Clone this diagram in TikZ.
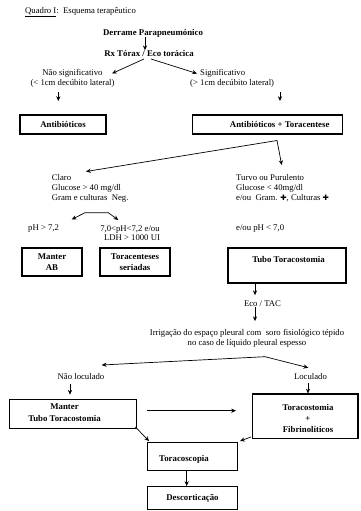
\documentclass[tikz,border=0pt]{standalone}
\usepackage{fontspec}
\setmainfont{Liberation Serif}
\newfontfamily\symfont{DejaVu Sans}
\usetikzlibrary{arrows.meta}
\begin{document}
\begin{tikzpicture}[x=1pt,y=-1pt,
  every node/.style={font=\fontsize{8.7}{10}\selectfont, inner sep=0pt},
  bold/.style={font=\fontsize{8.8}{11}\selectfont\bfseries},
  box/.style={draw, line width=1.3pt, inner sep=0pt},
  arr/.style={-{Stealth[length=4.8pt,width=4.2pt]}, line width=0.7pt},
  darr/.style={{Stealth[length=4.8pt,width=4.2pt]}-{Stealth[length=4.8pt,width=4.2pt]}, line width=0.7pt}]
\fill[white] (0,0) rectangle (360,511);
\useasboundingbox (0,0) rectangle (360,511);

% header
\node[anchor=west] (title) at (25,11.7) {\underline{Quadro I}:\ \ Esquema terapêutico};
\node[bold] (derrame) at (153,33) {Derrame Parapneumónico};
\node[bold] (rx) at (149,53.5) {Rx Tórax / Eco torácica};
\draw[arr] ([xshift=-8pt]derrame.south) -- ([xshift=-4pt]rx.north);

\node[align=center] (naosig) at (72.5,78.2) {Não significativo\\(< 1cm decúbito lateral)};
\node[anchor=west, align=left] (sig) at (190,78.2) {\hspace*{10pt}Significativo\\(> 1cm decúbito lateral)};
\coordinate (rxl) at (144,59);
\coordinate (rxr) at (151,59);
\coordinate (naosigtip) at (112,73.5);
\coordinate (sigtip) at (197,73.5);
\draw[arr] (rxl) -- (naosigtip);
\draw[arr] (rxr) -- (sigtip);

\node[box, bold, minimum width=86pt, minimum height=19pt] (antib) at (63,124.5) {Antibióticos};
\node[box, bold, minimum width=150pt, minimum height=19pt] (antibT) at (267.7,124.5) {\hspace*{24pt}Antibióticos + Toracentese};
\coordinate (c1) at (58.3,0);
\coordinate (c2) at (280,0);
\draw[arr, shorten <=4.5pt, shorten >=13.3pt] (naosig.south -| c1) -- (antib.north -| c1);
\draw[arr, shorten <=4.5pt, shorten >=13.3pt] (sig.south -| c2) -- (antibT.north -| c2);

% second level
\node[anchor=west, align=left] (claro) at (51.7,188) {Claro\\Glucose > 40 mg/dl\\Gram e culturas\ \ Neg.};
\node[anchor=west, align=left] (turvo) at (236,188) {Turvo ou Purulento\\Glucose < 40mg/dl\\e/ou\ \ Gram. {\symfont\fontsize{7.5}{10}\selectfont ✚}, Culturas {\symfont\fontsize{7.5}{10}\selectfont ✚}};
\coordinate (br1) at (277,140.5);
\coordinate (clarotip) at (86,171.5);
\coordinate (turvotip) at (281.7,165);
\draw[arr] (br1) -- (clarotip);
\draw[arr] (br1) -- (turvotip);

\coordinate (bk1) at (85,212.7);
\coordinate (bk2) at (108.3,212.7);
\coordinate (bktipL) at (71.7,219.5);
\coordinate (bktipR) at (118.3,220);
\draw[darr] (bktipL) -- (bk1) -- (bk2) -- (bktipR);

\node[anchor=west] (ph1) at (28,228.3) {pH > 7,2};
\node[align=center, font=\fontsize{8.7}{9.3}\selectfont] (ph2) at (130,232.8) {7,0<pH<7,2 e/ou\\\hspace*{4pt}LDH > 1000 UI};
\node[anchor=west] (ph3) at (236,228.3) {e/ou pH < 7,0};

\node[box, bold, align=center, minimum width=60pt, minimum height=28pt] (mab) at (52,262) {Manter\\AB};
\node[box, bold, align=center, minimum width=70pt, minimum height=28pt] (torac) at (135,262) {Toracenteses\\seriadas};
\node[box, minimum width=118pt, minimum height=35pt] (tubo) at (287,265.5) {};
\node[bold] (tubotxt) at (288.5,259.5) {Tubo Toracostomia};

\coordinate (c3) at (255,0);
\node (eco) at (262.5,303.3) {Eco / TAC};
\draw[arr, shorten >=5pt] (tubo.south -| c3) -- (eco.north -| c3);
\node[align=center] (irrig) at (247,338.3) {Irrigação do espaço pleural com\ \ soro fisiológico tépido\\no caso de líquido pleural espesso};
\draw[arr, shorten <=1pt, shorten >=8pt] (eco.south -| c3) -- (irrig.north -| c3);

\coordinate (br2) at (265,356.7);
\coordinate (naoloctip) at (101.7,365);
\coordinate (loctip) at (308.3,367.7);
\draw[arr] (br2) -- (naoloctip);
\draw[arr] (br2) -- (loctip);
\node (naoloc) at (81,376.7) {Não loculado};
\node (loc) at (310.5,376.7) {Loculado};

\node[box, minimum width=127.4pt, minimum height=29pt] (manterT) at (73,413.8) {};
\node[bold, align=center, font=\fontsize{8.8}{11.6}\selectfont\bfseries] (manterTtxt) at (64.5,412.5) {Manter\\Tubo Toracostomia};
\node[box, minimum width=105.3pt, minimum height=44.3pt] (tfib) at (305.3,416.2) {};
\node[bold, align=center] (tfibtxt) at (308,418) {Toracostomia\\+\\Fibrinolíticos};

\coordinate (c4) at (70,0);
\coordinate (c5) at (308,0);
\draw[arr, shorten <=4pt, shorten >=4pt] (naoloc.south -| c4) -- (manterT.north -| c4);
\draw[arr, shorten <=3pt] (loc.south -| c5) -- (tfib.north -| c5);

\coordinate (h) at (0,410.7);
\draw[arr, shorten <=10pt, shorten >=16pt] (manterT.east |- h) -- (tfib.west |- h);

\node[box, minimum width=89.6pt, minimum height=28pt] (toracosc) at (192.5,456.7) {};
\node[bold] (toracosctxt) at (184,459.3) {Toracoscopia};
\draw[arr] ([xshift=-2pt,yshift=2pt]manterT.south east) -- ([xshift=2pt,yshift=1pt]toracosc.north west);
\draw[arr] ([xshift=-1pt,yshift=2pt]tfib.south west) -- ([xshift=2pt,yshift=1pt]toracosc.north east);

\node[box, bold, minimum width=89.6pt, minimum height=22.8pt] (desc) at (192.5,498.1) {Descorticação};
\coordinate (c6) at (186.7,0);
\draw[arr] (toracosc.south -| c6) -- (desc.north -| c6);
\end{tikzpicture}
\end{document}
